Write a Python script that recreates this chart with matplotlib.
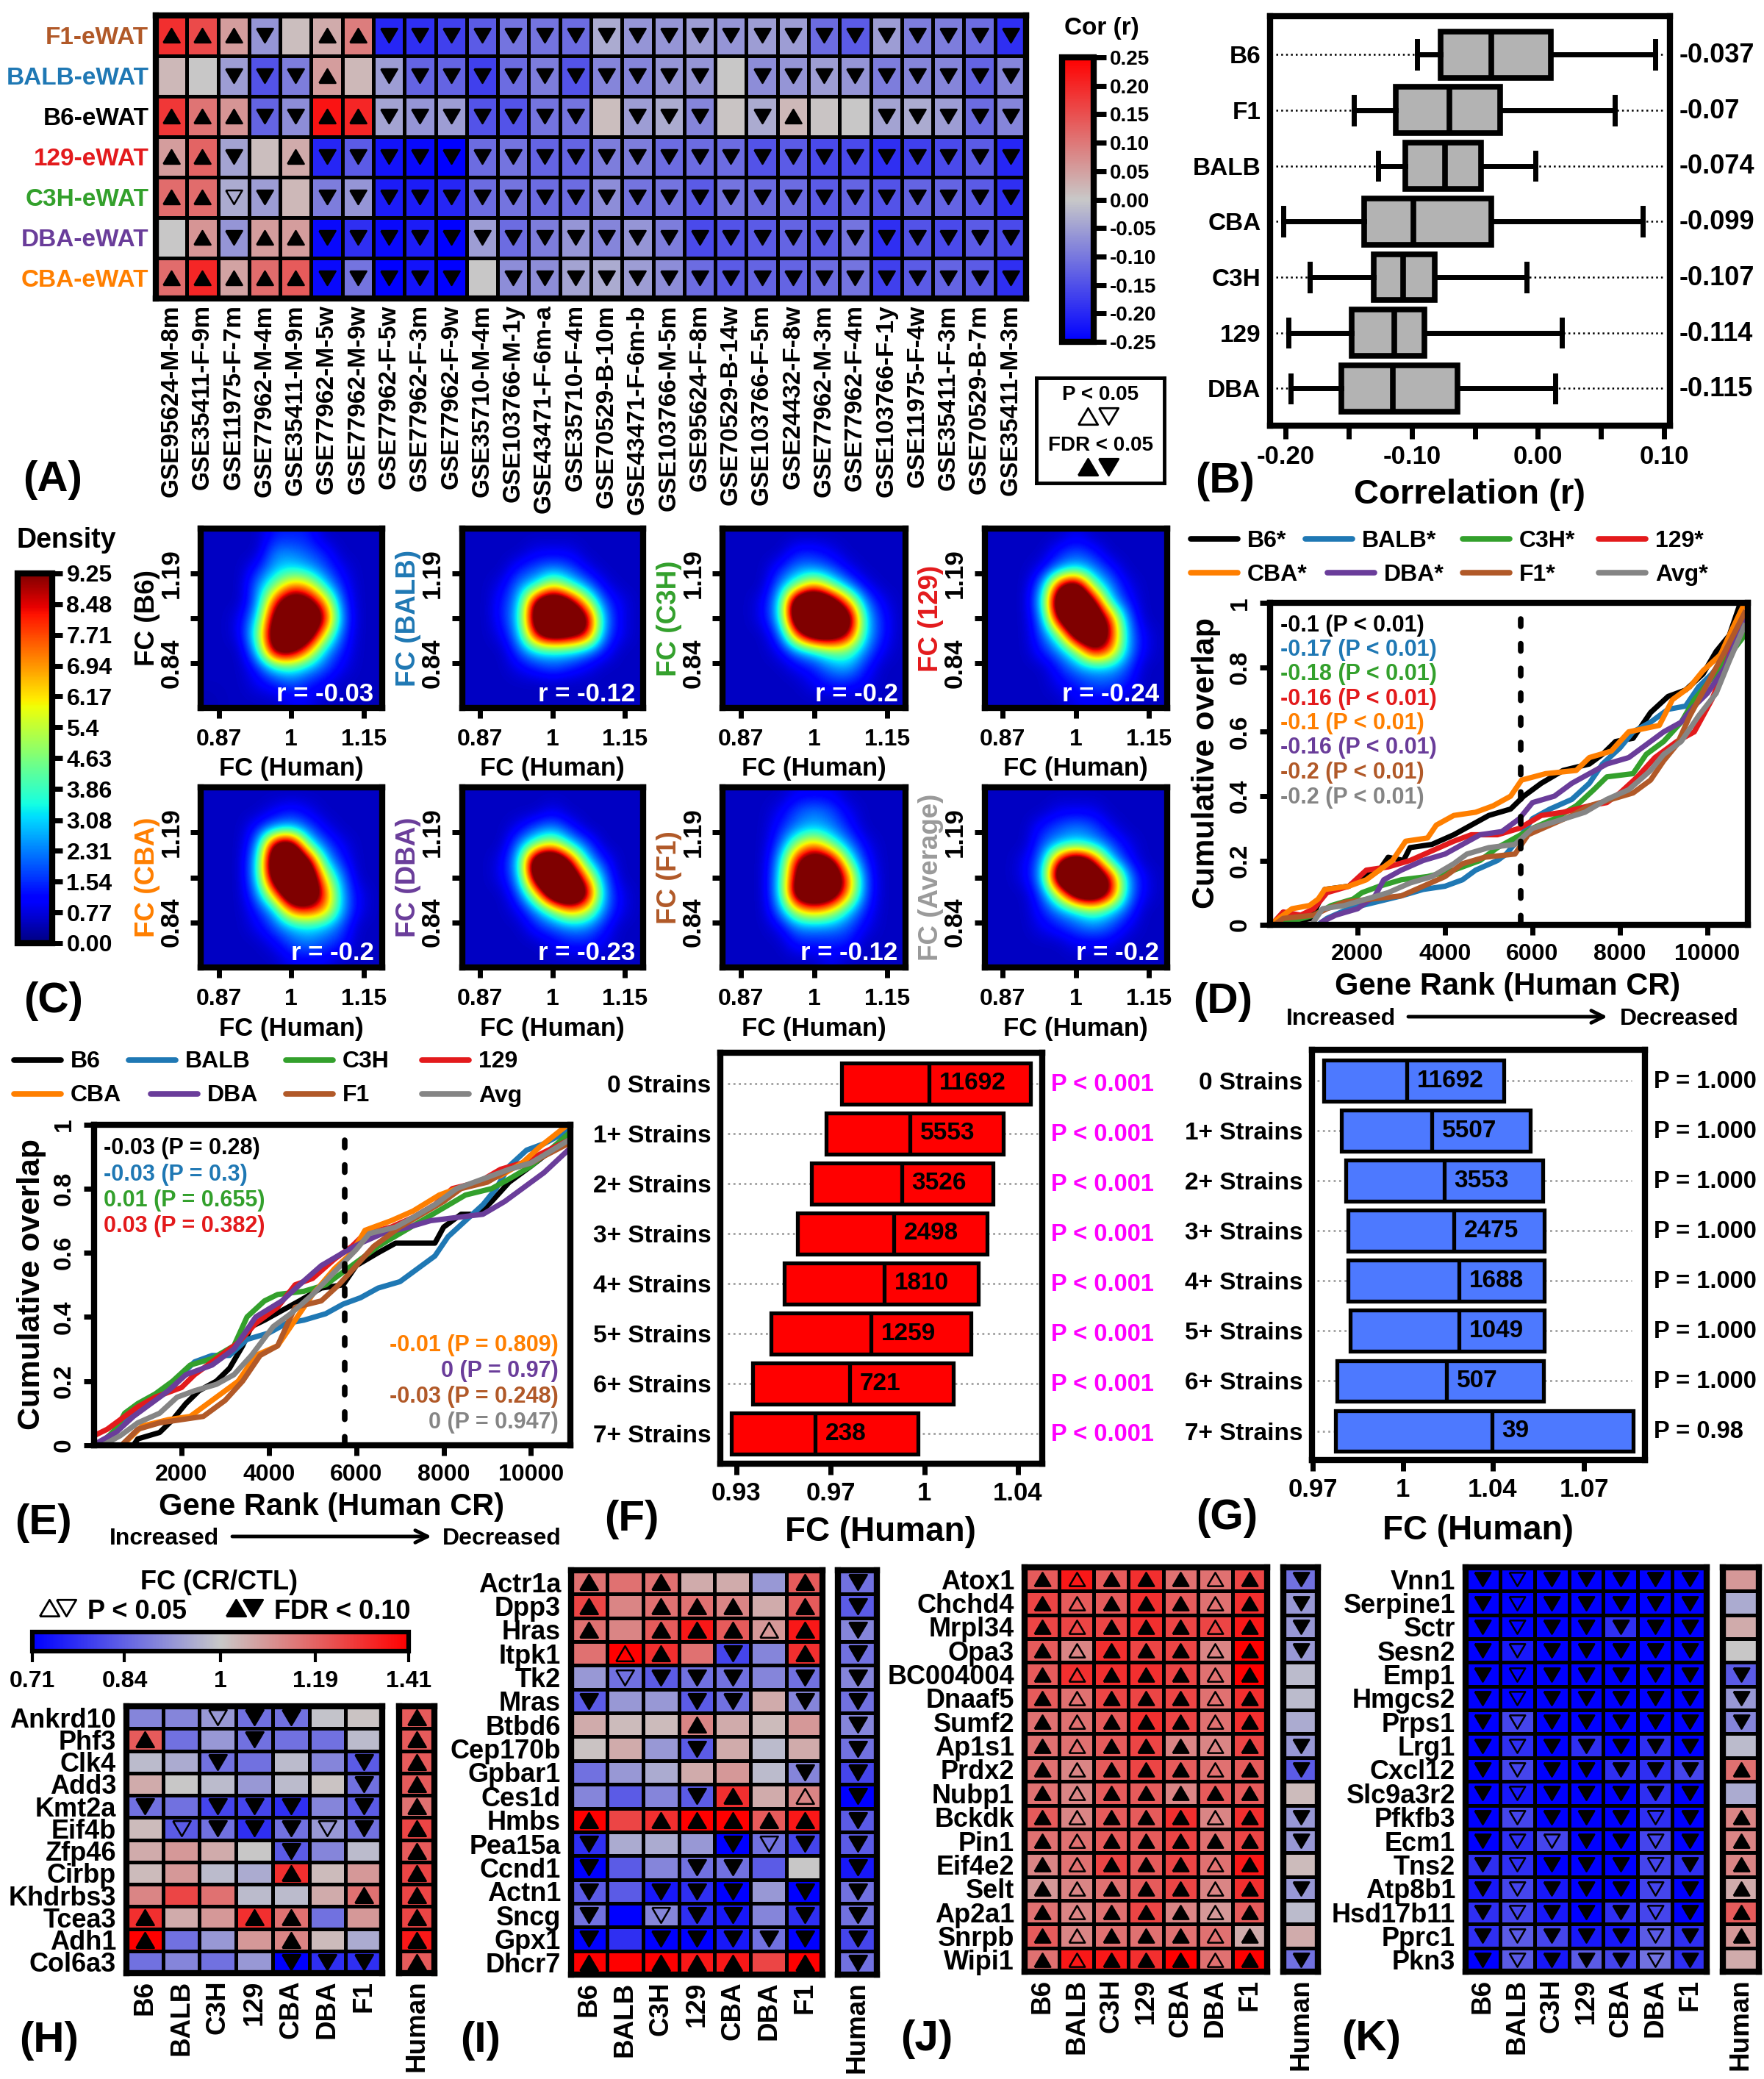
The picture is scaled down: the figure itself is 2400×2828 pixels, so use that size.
import numpy as np
import matplotlib
matplotlib.use('Agg')
import matplotlib.pyplot as plt
from matplotlib.cm import ScalarMappable
from matplotlib.colors import FuncNorm, LinearSegmentedColormap, LogNorm, Normalize

plt.rcParams['font.family'] = ['Liberation Sans', 'DejaVu Sans']
plt.rcParams['font.weight'] = 'bold'

W, H = 2400, 2828

BLACK = '#000000'
BLUE = '#1f78b4'
GREEN = '#33a02c'
RED = '#e31a1c'
ORANGE = '#ff7f00'
PURPLE = '#6a3d9a'
BROWN = '#b15928'
GREY = '#858585'

# panel A
A_rows = ['F1-eWAT', 'BALB-eWAT', 'B6-eWAT', '129-eWAT', 'C3H-eWAT', 'DBA-eWAT', 'CBA-eWAT']
A_row_colors = [BROWN, BLUE, BLACK, RED, GREEN, PURPLE, ORANGE]
A_cols = ['GSE95624-M-8m', 'GSE35411-F-9m', 'GSE11975-F-7m', 'GSE77962-M-4m', 'GSE35411-M-9m',
          'GSE77962-M-5w', 'GSE77962-M-9w', 'GSE77962-F-5w', 'GSE77962-F-3m', 'GSE77962-F-9w',
          'GSE35710-M-4m', 'GSE103766-M-1y', 'GSE43471-F-6m-a', 'GSE35710-F-4m', 'GSE70529-B-10m',
          'GSE43471-F-6m-b', 'GSE103766-M-5m', 'GSE95624-F-8m', 'GSE70529-B-14w', 'GSE103766-F-5m',
          'GSE24432-F-8w', 'GSE77962-M-3m', 'GSE77962-F-4m', 'GSE103766-F-1y', 'GSE11975-F-4w',
          'GSE35411-F-3m', 'GSE70529-B-7m', 'GSE35411-M-3m']
A_values = [
    [.20, .17, .07, -.08, .02, .05, .11, -.21, -.20, -.18, -.15, -.12, -.12, -.13, -.05, -.08, -.08, -.07, -.08, -.07, -.07, -.13, -.15, -.07, -.11, -.11, -.13, -.20],
    [.03, .00, -.07, -.16, -.11, .07, .03, -.07, -.14, -.14, -.18, -.13, -.11, -.16, -.10, -.10, -.08, -.08, .00, -.09, -.08, -.07, -.08, -.11, -.10, -.10, -.14, -.10],
    [.19, .12, .08, -.14, -.09, .23, .21, -.06, -.08, -.07, -.16, -.16, -.12, -.12, .02, -.07, -.05, -.10, .01, -.05, .03, .01, .00, -.06, -.05, -.07, -.13, -.10],
    [.07, .14, -.06, .02, .05, -.21, -.15, -.23, -.24, -.25, -.13, -.12, -.14, -.14, -.11, -.11, -.13, -.13, -.13, -.16, -.15, -.17, -.17, -.20, -.18, -.17, -.15, -.21],
    [.13, .13, -.05, -.07, .03, -.11, -.08, -.22, -.22, -.21, -.13, -.12, -.13, -.13, -.09, -.12, -.12, -.15, -.12, -.13, -.13, -.15, -.14, -.16, -.14, -.14, -.15, -.20],
    [.00, .08, -.08, .07, .07, -.24, -.20, -.24, -.22, -.25, -.07, -.13, -.11, -.08, -.10, -.08, -.11, -.17, -.16, -.15, -.14, -.15, -.12, -.20, -.16, -.17, -.15, -.17],
    [.13, .21, .06, .13, .15, -.24, -.12, -.25, -.23, -.25, .00, -.09, -.09, -.06, -.05, -.07, -.09, -.13, -.15, -.14, -.14, -.13, -.12, -.18, -.15, -.14, -.15, -.20],
]
A_marks = [
    'UUUD.UUDDDDDDDDDDDDDDDDDDDDD',
    '..DDDU.DDDDDDDDDDD.DDDDDDDDD',
    'UUUDDUUDDDDDDD.DDD.DU..DDDDD',
    'UUD.UDDDDDDDDDDDDDDDDDDDDDDD',
    'UUdD.DDDDDDDDDDDDDDDDDDDDDDD',
    '.UDUUDDDDDDDDDDDDDDDDDDDDDDD',
    'UUUUUDDDDD.DDDDDDDDDDDDDDDDD',
]
cor_ticks = [0.25, 0.20, 0.15, 0.10, 0.05, 0.00, -0.05, -0.10, -0.15, -0.20, -0.25]

# panel B
B_strains = ['B6', 'F1', 'BALB', 'CBA', 'C3H', '129', 'DBA']
B_whislo = [-.096, -.146, -.127, -.202, -.181, -.198, -.196]
B_q1 = [-.077, -.113, -.105, -.138, -.130, -.148, -.156]
B_med = [-.037, -.070, -.074, -.099, -.107, -.114, -.115]
B_q3 = [.010, -.030, -.045, -.037, -.082, -.090, -.064]
B_whishi = [.093, .061, -.002, .083, -.009, .019, .014]
B_means = ['-0.037', '-0.07', '-0.074', '-0.099', '-0.107', '-0.114', '-0.115']

# panel C
density_ticks = [0, .77, 1.54, 2.31, 3.08, 3.86, 4.63, 5.4, 6.17, 6.94, 7.71, 8.48, 9.25]
density_labels = ['0.00', '0.77', '1.54', '2.31', '3.08', '3.86', '4.63', '5.4', '6.17', '6.94', '7.71', '8.48', '9.25']
C_names = ['FC (B6)', 'FC (BALB)', 'FC (C3H)', 'FC (129)', 'FC (CBA)', 'FC (DBA)', 'FC (F1)', 'FC (Average)']
C_colors = [BLACK, BLUE, GREEN, RED, ORANGE, PURPLE, BROWN, '#9a9a9a']
C_r = ['r = -0.03', 'r = -0.12', 'r = -0.2', 'r = -0.24', 'r = -0.2', 'r = -0.23', 'r = -0.12', 'r = -0.2']
# density read on a coarse 11 x 11 grid, top row first (over 9.25 is the saturated core)
C_b6 = [[1, 1, 1, 1, 2, 2, 2, 1, 1, 1, 1], [1, 1, 1, 1, 3, 3, 2.5, 2, 1, 1, 1],
        [1, 1, 1, 2, 3.5, 4, 3.5, 2.5, 1.5, 1, 1], [1, 1, 1, 3, 5, 7, 6.5, 4, 2, 1, 1],
        [1, 1, 1, 3, 8, 11, 10, 7, 2.5, 1, 1], [1, 1, 1.5, 4, 10, 12, 12, 9, 3, 1, 1],
        [1, 1, 1.5, 5, 11, 12, 11, 6, 2.5, 1, 1], [1, 1, 1, 4, 10, 10, 7, 3.5, 2, 1, 1],
        [1, 1, 1, 2, 4, 4.5, 3.5, 2.5, 1.5, 1, 1], [1, 1, 1, 1.5, 2, 2.5, 2, 1.5, 1, 1, 1],
        [.8, 1, 1, 1, 1, 1.5, 1.5, 1, 1, 1, .8]]
C_balb = [[1, 1, 1, 1, 1, 1, 1, 1, 1, 1, 1], [1, 1, 1, 1, 1.5, 1.5, 1.5, 1, 1, 1, 1],
          [1, 1, 1, 2, 2.5, 3, 2.5, 1.5, 1, 1, 1], [1, 1, 1.5, 3, 4, 6, 4.5, 3, 1.5, 1, 1],
          [1, 1, 2, 3.5, 10, 12, 10, 6, 2.5, 1.5, 1], [1, 1, 2, 4, 11, 13, 12, 10, 3.5, 1.5, 1],
          [1, 1, 1.5, 3.5, 9, 11, 10, 9, 3, 1.5, 1], [1, 1, 1, 2.5, 4, 4, 4, 3, 2, 1, 1],
          [1, 1, 1, 1.5, 2, 2.5, 2, 1.5, 1, 1, 1], [1, 1, 1, 1, 1, 1, 1, 1, 1, 1, 1],
          [1, 1, 1, 1, 1, 1, 1, 1, 1, 1, 1]]
C_c3h = [[1, 1, 1, 1, 1, 1, 1, 1, 1, 1, 1], [1, 1, 1, 1, 2, 2, 1.5, 1, 1, 1, 1],
         [1, 1, 1, 2, 3, 3, 2.5, 1.5, 1, 1, 1], [1, 1, 1, 3, 5, 7, 5, 3, 1.5, 1, 1],
         [1, 1, 1.5, 4, 12, 13, 11, 7, 3, 1.5, 1], [1, 1, 1.5, 4, 12, 13, 12, 11, 4, 2, 1],
         [1, 1, 1, 2.5, 8, 11, 11, 9, 4, 2, 1], [1, 1, 1, 1.5, 3, 4, 5, 5, 3, 1.5, 1],
         [1, 1, 1, 1, 1.5, 2, 3, 3.5, 2, 1, 1], [1, 1, 1, 1, 1, 1.5, 2, 2, 1.5, 1, 1],
         [1, 1, 1, 1, 1, 1, 1, 1, 1, 1, 1]]
C_129 = [[1, 1, 1, 1, 1, 1.5, 1, 1, 1, 1, 1], [1, 1, 1, 1, 2, 2.5, 2, 1, 1, 1, 1],
         [1, 1, 1, 1.5, 3, 4, 3, 2, 1, 1, 1], [1, 1, 1, 3, 9, 11, 5, 3, 1.5, 1, 1],
         [1, 1, 1, 4, 12, 13, 10, 4, 2, 1, 1], [1, 1, 1, 3, 10, 13, 12, 8, 3, 1, 1],
         [1, 1, 1, 2.5, 5, 11, 12, 9, 3.5, 1.5, 1], [1, 1, 1, 2, 3, 5, 9, 7.5, 3.5, 1.5, 1],
         [1, 1, 1, 1, 2, 3, 3.5, 3.5, 2.5, 1, 1], [1, 1, 1, 1, 1.5, 2, 2.5, 2.5, 2, 1, 1],
         [1, 1, 1, 1, 1, 1.5, 1.5, 1.5, 1, 1, 1]]
C_cba = [[1, 1, 1, 1, 1, 1, 1, 1, 1, 1, 1], [1, 1, 1, 1, 1.5, 2, 1.5, 1, 1, 1, 1],
         [1, 1, 1, 2, 3, 3.5, 2.5, 1.5, 1, 1, 1], [1, 1, 1, 3, 10, 11, 4.5, 2.5, 1.5, 1, 1],
         [1, 1, 1, 4, 12, 13, 10, 4, 2, 1, 1], [1, 1, 1, 4, 11, 13, 12, 6, 3, 1, 1],
         [1, 1, 1, 3, 7, 12, 12, 8, 3.5, 1.5, 1], [1, 1, 1, 2, 3.5, 7.5, 8, 7, 3.5, 1.5, 1],
         [1, 1, 1, 1.5, 2.5, 3.5, 4, 3.5, 2.5, 1, 1], [1, 1, 1, 1, 1.5, 2.5, 3, 2.5, 2, 1, 1],
         [1, 1, 1, 1, 1, 1.5, 1.5, 1.5, 1, 1, 1]]
C_dba = [[1, 1, 1, 1, 1, 1, 1, 1, 1, 1, 1], [1, 1, 1, 1, 1, 1.5, 1, 1, 1, 1, 1],
         [1, 1, 1, 1.5, 2.5, 3, 2, 1, 1, 1, 1], [1, 1, 1, 3, 5, 6, 4, 2.5, 1, 1, 1],
         [1, 1, 1.5, 4, 12, 13, 9, 4, 2, 1, 1], [1, 1, 1.5, 3.5, 11, 13, 12, 7, 3, 1, 1],
         [1, 1, 1, 2.5, 6, 12, 13, 10, 3.5, 1.5, 1], [1, 1, 1, 1.5, 3, 5, 7, 6, 3, 1.5, 1],
         [1, 1, 1, 1, 2, 2.5, 3, 3, 2, 1, 1], [1, 1, 1, 1, 1, 1.5, 2, 2, 1.5, 1, 1],
         [1, 1, 1, 1, 1, 1, 1, 1, 1, 1, 1]]
C_f1 = [[1, 1, 1, 1, 1.5, 1.5, 1.5, 1, 1, 1, 1], [1, 1, 1, 1.5, 2.5, 3, 2.5, 1.5, 1, 1, 1],
        [1, 1, 1, 2, 3, 3.5, 3, 2, 1, 1, 1], [1, 1, 1, 2.5, 5.5, 7, 5, 3, 1.5, 1, 1],
        [1, 1, 1, 3.5, 9, 11, 10, 5, 2, 1, 1], [1, 1, 1, 4, 10, 12, 12, 7.5, 2.5, 1, 1],
        [1, 1, 1, 4, 11, 12, 11, 7, 2.5, 1, 1], [1, 1, 1, 3, 6, 7, 6, 4, 2, 1, 1],
        [1, 1, 1, 1.5, 3, 3, 3, 2.5, 1.5, 1, 1], [1, 1, 1, 1, 2, 2, 2, 2, 1, 1, 1],
        [1, 1, 1, 1, 1, 1, 1.5, 1, 1, 1, 1]]
C_avg = [[1, 1, 1, 1, 1, 1, 1, 1, 1, 1, 1], [1, 1, 1, 1, 1.5, 1.5, 1.5, 1, 1, 1, 1],
         [1, 1, 1, 2, 2.5, 3, 2.5, 1.5, 1, 1, 1], [1, 1, 1, 2.5, 3.5, 4, 3.5, 2.5, 1.5, 1, 1],
         [1, 1, 1.5, 3, 9, 12, 9, 4, 2, 1, 1], [1, 1, 1.5, 3.5, 12, 13, 12, 9, 3.5, 1.5, 1],
         [1, 1, 1, 2.5, 6, 11, 12, 9, 3.5, 1.5, 1], [1, 1, 1, 2, 3, 4, 5, 4, 2.5, 1, 1],
         [1, 1, 1, 1.5, 2, 2.5, 3, 2.5, 1.5, 1, 1], [1, 1, 1, 1, 1, 1.5, 1.5, 1.5, 1, 1, 1],
         [1, 1, 1, 1, 1, 1, 1, 1, 1, 1, 1]]
C_grids = [C_b6, C_balb, C_c3h, C_129, C_cba, C_dba, C_f1, C_avg]
# first reading of the grids was too bright in the outer part of the blobs
C_read_levels = [0, 1, 2, 3, 4, 5, 6, 9, 13]
C_true_levels = [0, .55, 1.4, 2.4, 3.3, 4.5, 6, 9.5, 14]

# panels D and E, points of the overlap curves (rank, overlap)
D_b6 = [(100, 0), (950, .02), (1250, .11), (1800, .12), (2000, .14), (2500, .17), (2700, .21), (3050, .2), (3200, .24), (3700, .25), (4200, .28), (4600, .31), (5000, .34), (5500, .36), (5800, .4), (6200, .44), (6700, .48), (7300, .5), (7600, .53), (7900, .57), (8300, .58), (8700, .66), (9100, .71), (9500, .73), (9900, .78), (10200, .85), (10500, .9), (10750, 1)]
D_balb = [(1100, 0), (1300, .02), (1800, .05), (2400, .07), (3000, .09), (3500, .11), (4000, .12), (4400, .14), (4700, .17), (5200, .2), (5400, .22), (5700, .27), (6000, .33), (6400, .36), (6900, .39), (7300, .44), (7600, .5), (8000, .55), (8300, .6), (8700, .63), (9100, .67), (9500, .68), (9800, .74), (10100, .78), (10500, .85), (10850, .97)]
D_c3h = [(200, 0), (1000, .03), (1400, .06), (1900, .08), (2100, .1), (2500, .12), (3000, .14), (3600, .15), (4200, .17), (4800, .2), (5200, .24), (5600, .27), (6000, .3), (6500, .33), (7000, .37), (7400, .42), (7700, .46), (8300, .47), (8600, .53), (9000, .57), (9400, .63), (9700, .7), (10000, .75), (10400, .82), (10850, .9)]
D_129 = [(100, .01), (300, .04), (700, .03), (1000, .05), (1300, .1), (1800, .12), (2200, .17), (2700, .18), (3200, .2), (3700, .23), (4200, .26), (4600, .28), (5200, .28), (5700, .3), (6200, .34), (6700, .35), (7300, .37), (7700, .38), (8000, .41), (8400, .46), (8800, .52), (9300, .57), (9700, .6), (10100, .7), (10400, .8), (10850, .97)]
D_cba = [(100, .01), (300, .03), (500, .05), (900, .06), (1100, .08), (1250, .11), (1800, .12), (2200, .14), (2500, .17), (2800, .2), (3100, .26), (3600, .27), (3800, .31), (4200, .34), (4700, .35), (5100, .37), (5500, .4), (5750, .45), (6300, .47), (7000, .48), (7300, .52), (7800, .54), (8200, .6), (8900, .62), (9200, .7), (9600, .74), (9900, .79), (10300, .84), (10500, .9), (10850, 1)]
D_dba = [(1200, .01), (1500, .03), (2000, .05), (2400, .09), (2600, .14), (3000, .17), (3500, .2), (4000, .22), (4400, .25), (4800, .28), (5300, .29), (5700, .33), (6000, .38), (6500, .4), (6900, .44), (7300, .47), (7700, .5), (8200, .52), (8500, .55), (9000, .6), (9400, .63), (9700, .68), (10000, .72), (10400, .8), (10850, .95)]
D_f1 = [(100, 0), (300, .02), (1000, .03), (1300, .05), (1700, .07), (2300, .08), (3000, .09), (3500, .12), (4000, .15), (4400, .19), (4900, .21), (5600, .22), (5900, .28), (6400, .31), (6900, .34), (7300, .37), (7800, .39), (8300, .41), (8700, .45), (9000, .51), (9300, .56), (9600, .65), (10000, .75), (10400, .85), (10850, .97)]
D_avg = [(1000, .01), (1200, .05), (1700, .06), (2200, .08), (2700, .1), (3200, .13), (3700, .15), (4200, .19), (4500, .22), (5000, .24), (5600, .25), (6000, .3), (6500, .32), (7200, .35), (7700, .39), (8200, .42), (8700, .48), (9000, .53), (9400, .57), (9800, .65), (10200, .72), (10500, .82), (10850, .93)]
D_curves = [D_b6, D_balb, D_c3h, D_129, D_cba, D_dba, D_f1, D_avg]

E_b6 = [(900, 0), (1000, .02), (1500, .04), (1800, .08), (2100, .13), (2400, .17), (2800, .2), (3100, .24), (3400, .31), (3600, .37), (3900, .39), (4300, .42), (4700, .45), (5200, .49), (5700, .5), (6000, .56), (6500, .6), (6900, .63), (7800, .63), (8000, .68), (8400, .72), (8800, .72), (9100, .76), (9500, .82), (10000, .87), (10850, .96)]
E_balb = [(100, 0), (300, .02), (600, .07), (1000, .12), (1500, .16), (2000, .22), (2300, .26), (2700, .28), (3100, .28), (3500, .33), (4000, .35), (4400, .38), (4800, .39), (5300, .41), (5700, .44), (6100, .46), (6500, .49), (7000, .51), (7400, .55), (7800, .59), (8100, .65), (8500, .7), (8900, .75), (9200, .8), (9500, .87), (9900, .92), (10300, .94), (10850, .98)]
E_c3h = [(100, 0), (500, .05), (700, .1), (1000, .13), (1400, .16), (1800, .2), (2200, .25), (2700, .27), (3200, .31), (3500, .4), (3900, .45), (4200, .47), (4800, .48), (5300, .5), (5700, .54), (6100, .58), (6500, .62), (7000, .66), (7500, .7), (8000, .74), (8500, .78), (9100, .8), (9500, .83), (10000, .87), (10850, .97)]
E_129 = [(0, .03), (300, .05), (600, .08), (1000, .12), (1400, .15), (2000, .18), (2300, .22), (2600, .25), (3000, .29), (3300, .32), (3700, .38), (4200, .43), (4600, .5), (5000, .52), (5500, .58), (5900, .62), (6200, .66), (6800, .68), (7300, .71), (7800, .75), (8200, .8), (8800, .82), (9300, .86), (9800, .88), (10850, .95)]
E_cba = [(800, .02), (1100, .06), (1700, .08), (2200, .09), (2600, .13), (3000, .17), (3300, .2), (3700, .28), (4200, .31), (4600, .39), (5000, .47), (5500, .55), (5900, .6), (6200, .67), (6800, .7), (7300, .73), (7900, .78), (8300, .8), (8800, .82), (9300, .84), (9800, .88), (10200, .93), (10850, 1)]
E_dba = [(100, .01), (500, .04), (900, .09), (1300, .13), (1700, .17), (2100, .22), (2700, .25), (3200, .3), (3700, .4), (4300, .45), (4700, .5), (5200, .56), (5700, .6), (6100, .63), (6600, .66), (7200, .68), (7700, .7), (8300, .71), (8900, .72), (9400, .76), (9800, .8), (10300, .85), (10850, .92)]
E_f1 = [(700, .01), (1000, .05), (1500, .07), (2000, .08), (2500, .09), (3000, .14), (3400, .2), (3800, .28), (4200, .31), (4600, .43), (5200, .45), (5600, .5), (6000, .56), (6400, .62), (7000, .68), (7500, .72), (8000, .76), (8400, .8), (9000, .82), (9500, .86), (10000, .88), (10850, .94)]
E_avg = [(200, 0), (600, .03), (1000, .07), (1500, .1), (1900, .15), (2300, .17), (2800, .19), (3200, .22), (3600, .28), (4100, .37), (4500, .41), (5000, .47), (5500, .54), (6000, .61), (6300, .66), (6900, .68), (7300, .71), (7800, .75), (8300, .8), (8900, .83), (9500, .86), (10000, .88), (10850, .95)]
E_curves = [E_b6, E_balb, E_c3h, E_129, E_cba, E_dba, E_f1, E_avg]

curve_colors = [BLACK, BLUE, GREEN, RED, ORANGE, PURPLE, BROWN, GREY]
D_legend = ['B6*', 'BALB*', 'C3H*', '129*', 'CBA*', 'DBA*', 'F1*', 'Avg*']
E_legend = ['B6', 'BALB', 'C3H', '129', 'CBA', 'DBA', 'F1', 'Avg']
D_stats = ['-0.1 (P < 0.01)', '-0.17 (P < 0.01)', '-0.18 (P < 0.01)', '-0.16 (P < 0.01)',
           '-0.1 (P < 0.01)', '-0.16 (P < 0.01)', '-0.2 (P < 0.01)', '-0.2 (P < 0.01)']
E_stats = ['-0.03 (P = 0.28)', '-0.03 (P = 0.3)', '0.01 (P = 0.655)', '0.03 (P = 0.382)',
           '-0.01 (P = 0.809)', '0 (P = 0.97)', '-0.03 (P = 0.248)', '0 (P = 0.947)']
rank_ticks = [2000, 4000, 6000, 8000, 10000]
overlap_ticks = [0, .2, .4, .6, .8, 1]
overlap_labels = ['0', '0.2', '0.4', '0.6', '0.8', '1']
cutoff_rank = 5730

# panels F and G
strain_rows = ['0 Strains', '1+ Strains', '2+ Strains', '3+ Strains', '4+ Strains', '5+ Strains', '6+ Strains', '7+ Strains']
F_q1 = [.9700, .9645, .9593, .9543, .9495, .9449, .9386, .9314]
F_med = [1.0017, .9947, .9916, .9888, .9852, .9804, .9728, .9604]
F_q3 = [1.0399, 1.0295, 1.0256, 1.0234, 1.0200, 1.0171, 1.0105, .9976]
F_n = ['11692', '5553', '3526', '2498', '1810', '1259', '721', '238']
F_p = ['P < 0.001'] * 8
F_ticks = [.933, .966, 1, 1.035]
F_ticklabels = ['0.93', '0.97', '1', '1.04']
G_q1 = [.9700, .9766, .9783, .9791, .9791, .9799, .9749, .9745]
G_med = [1.0015, 1.0110, 1.0159, 1.0197, 1.0216, 1.0216, 1.0168, 1.0347]
G_q3 = [1.0396, 1.0500, 1.0550, 1.0557, 1.0557, 1.0557, 1.0553, 1.0925]
G_n = ['11692', '5507', '3553', '2475', '1688', '1049', '507', '39']
G_p = ['P = 1.000'] * 7 + ['P = 0.98']
G_ticks = [.966, 1, 1.035, 1.072]
G_ticklabels = ['0.97', '1', '1.04', '1.07']

# panels H to K: colour score -10 (FC 0.71) to 10 (FC 1.41)
strain_cols = ['B6', 'BALB', 'C3H', '129', 'CBA', 'DBA', 'F1']
H_genes = ['Ankrd10', 'Phf3', 'Clk4', 'Add3', 'Kmt2a', 'Eif4b', 'Zfp46', 'Cirbp', 'Khdrbs3', 'Tcea3', 'Adh1', 'Col6a3']
H_values = [[-4, -4, -3, -5, -5, -.5, .5], [6, -5, -3, -5, -5, -5, -1], [-1, -2, -5, -5, -1, -4, -6],
            [2, 0, -1, -3, -1, .5, -5], [-5, -5, -7, -7, -8, -4, -6], [1, -6, -5, -8, -5, -3, -5],
            [2, 3, 2, 0, -6, -4, -1], [1, 3, -1, -2, 8, 1, 3], [4, 7, 5, -1, -1, 2, 5],
            [8, 2, 3, 8, 5, -5, 3], [10, -5, -3, 3, 4, 1, -2], [-5, -4, -5, -3, -10, -8, -8]]
H_marks = ['..dDD..', 'U..D...', '..D...D', '......D', 'D.DDD.D', '.dDDDdD', '....D..', '....U..',
           '......U', 'U..UU..', 'U...U..', '....DDD']
H_human = [6, 6, 6, 6, 5, 7, 6, 7, 7, 7, 9, 6]
H_human_marks = 'UUUUUUUUUUUU'

I_genes = ['Actr1a', 'Dpp3', 'Hras', 'Itpk1', 'Tk2', 'Mras', 'Btbd6', 'Cep170b', 'Gpbar1', 'Ces1d', 'Hmbs', 'Pea15a', 'Ccnd1', 'Actn1', 'Sncg', 'Gpx1', 'Dhcr7']
I_values = [[5, 5, 5, 2, 2, -3, 6], [7, 4, 5, 5, 4, 2, 6], [5, 4, 6, 9, 6, 3, 9], [5, 10, 8, 5, -7, -4, 8],
            [-3, -5, -6, -5, -5, -4, -5], [-6, -3, -3, -6, -5, 2, -4], [2, 1, 1, 4, 2, 1, 3],
            [.5, 2, -3, -6, 2, -1, 2], [-5, -3, -2, 2, 3, -1, -4], [-4, -6, -4, -6, 8, 2, 4],
            [10, 7, 8, 10, 10, 6, 9], [-8, -2, -2, -3, -10, -5, -7], [-10, -6, -4, -5, -5, -6, 0],
            [-6, -6, -9, -8, -10, -3, -10], [-5, -10, -4, -8, -9, -4, -8], [-10, -8, -10, -10, -9, -5, -10],
            [10, 10, 10, 9, 9, 7, 10]]
I_marks = ['U.U...U', 'U.UUU.U', 'U.UUUuU', '.uU.D.U', '.dDDD.D', 'D..DD.D', '...U...', '...D...',
           '......D', '...DU.u', 'U.UUUUU', 'D...DdD', 'D..DD..', 'D.DDD.D', 'D.dDD.D', 'D.DDDDD', 'U.UUU.U']
I_human = [-5, -6, -4, -5, -4, -5, -4, -5, -7, -10, -6, -6, -9, -5, -5, -7, -5]
I_human_marks = 'DDDDDDDDDDDDDDDDD'

J_genes = ['Atox1', 'Chchd4', 'Mrpl34', 'Opa3', 'BC004004', 'Dnaaf5', 'Sumf2', 'Ap1s1', 'Prdx2', 'Nubp1', 'Bckdk', 'Pin1', 'Eif4e2', 'Selt', 'Ap2a1', 'Snrpb', 'Wipi1']
J_values = [[6, 9, 6, 8, 5, 5, 7], [7, 6, 6, 8, 6, 5, 8], [7, 7, 7, 8, 7, 7, 9], [6, 4, 8, 7, 7, 4, 10],
            [6, 8, 8, 8, 7, 5, 10], [6, 5, 7, 7, 7, 5, 8], [5, 5, 6, 8, 7, 5, 8], [5, 5, 6, 7, 4, 4, 7],
            [5, 4, 6, 7, 6, 5, 6], [5, 4, 6, 6, 4, 6, 6], [6, 4, 6, 6, 8, 4, 8], [5, 5, 6, 6, 7, 5, 7],
            [4, 5, 7, 6, 7, 5, 9], [3, 4, 5, 6, 7, 4, 8], [5, 4, 5, 7, 4, 3, 6], [6, 4, 5, 5, 5, 5, 2],
            [5, 9, 9, 8, 10, 5, 10]]
J_marks = ['UuUUUuU', 'UuUUUuU', 'UuUUUuU', 'UuUUUuU', 'UuUUUuU', 'UuUUUuU', 'UuUUUuU', 'UuUUUuU', 'UuUUUuU',
           'UuUUUUU', 'UuUUUuU', 'UuUUUUU', 'UuUUUuU', 'UuUUUuU', 'UuUUUuU', 'UuUUUuU', 'UuUUUuU']
J_human = [-5, -3, -3, -3, -1, -1, -2, -3, -6, 1, -3, -3, 1, -3, -1, 2, -5]
J_human_marks = 'DDDD...DD.DD.D..D'

K_genes = ['Vnn1', 'Serpine1', 'Sctr', 'Sesn2', 'Emp1', 'Hmgcs2', 'Prps1', 'Lrg1', 'Cxcl12', 'Slc9a3r2', 'Pfkfb3', 'Ecm1', 'Tns2', 'Atp8b1', 'Hsd17b11', 'Pprc1', 'Pkn3']
K_values = [[-10, -10, -10, -10, -10, -10, -10], [-10, -10, -10, -10, -10, -10, -10], [-10, -10, -10, -10, -8, -10, -10],
            [-10, -9, -10, -10, -10, -10, -10], [-10, -10, -10, -10, -10, -10, -10], [-10, -10, -10, -10, -10, -10, -10],
            [-10, -7, -10, -10, -10, -10, -10], [-10, -8, -10, -8, -10, -8, -10], [-10, -7, -10, -10, -8, -8, -7],
            [-10, -9, -10, -10, -10, -8, -10], [-10, -7, -10, -10, -10, -8, -10], [-10, -8, -7, -10, -10, -7, -10],
            [-8, -8, -10, -10, -10, -7, -8], [-9, -7, -9, -10, -10, -7, -10], [-8, -7, -9, -10, -8, -7, -10],
            [-8, -6, -7, -9, -9, -6, -8], [-10, -6, -9, -6, -7, -5, -8]]
K_marks = ['DdDDDDD', 'DdDDDDD', 'DdDDDDD', 'DdDDDDD', 'DdDDDDD', 'DdDDDDD', 'DdDDDDD', 'DdDDDDD', 'DdDDDDD',
           'DdDDDDD', 'DdDDDdD', 'DddDDdD', 'DdDDDdD', 'DdDDDdD', 'DdDDDdD', 'DdDDDdD', 'DdDDDdD']
K_human = [3, -2, 2, 0, -6, -3, -4, -1, 5, -2, 4, 4, 4, 2, 6, 3, 2]
K_human_marks = '....DDD.U.UUUUUU.'
fc_ticks = [.71, .84, 1, 1.19, 1.41]
fc_ticklabels = ['0.71', '0.84', '1', '1.19', '1.41']

heat_cmap = LinearSegmentedColormap.from_list('heat', ['#0000ff', '#c8c8c8', '#ff0000'])
UP = [(-1, -.85), (0, .85), (1, -.85), (-1, -.85)]
DOWN = [(-1, .85), (0, -.85), (1, .85), (-1, .85)]

fig = plt.figure(figsize=(W / 100, H / 100), dpi=100)


def soft_norm(limit):
    # cell colours came out too strong when read linearly, so ease the middle range
    f = lambda v: np.sign(v) * np.abs(v) ** 1.2
    inv = lambda v: np.sign(v) * np.abs(v) ** (1 / 1.2)
    return FuncNorm((f, inv), vmin=-limit, vmax=limit)


def panel(x0, y0, x1, y1, lw=6):
    ax = fig.add_axes([x0 / W, 1 - y1 / H, (x1 - x0) / W, (y1 - y0) / H])
    for s in ax.spines.values():
        s.set_linewidth(lw)
    return ax


# overlay in pixel coordinates for free standing texts
top = fig.add_axes([0, 0, 1, 1], zorder=10)
top.set_xlim(0, W)
top.set_ylim(H, 0)
top.axis('off')


def label(x, y, s, size=24, ha='center', va='center', color='k', rotation=0):
    if rotation == 0:
        y = y + 3
    top.text(x, y, s, fontsize=size, ha=ha, va=va, color=color, rotation=rotation)


def draw_marks(ax, marks, ms, mew):
    for r, row in enumerate(marks):
        for c, m in enumerate(row):
            if m == '.':
                continue
            ax.plot(c + .5, r + .5, marker=UP if m in 'Uu' else DOWN, ms=ms, mew=mew, mec='k',
                    mfc='k' if m.isupper() else 'none', ls='none')


def heat_panel(x0, y0, x1, y1, values, marks, norm, ms, mew=1.8, grid=3.5):
    ax = panel(x0, y0, x1, y1)
    arr = np.array(values, dtype=float)
    ax.pcolormesh(arr, cmap=heat_cmap, norm=norm, edgecolors='k', linewidth=grid)
    draw_marks(ax, marks, ms, mew)
    ax.set_xlim(0, arr.shape[1])
    ax.set_ylim(arr.shape[0], 0)
    ax.tick_params(length=0)
    return ax


# (A)
ax = heat_panel(212, 20.5, 1396, 406, A_values, A_marks, soft_norm(.25), 16)
ax.set_xticks(np.arange(len(A_cols)) + .5)
ax.set_xticklabels(A_cols, rotation=90, fontsize=24, ha='center', va='top')
ax.set_yticks(np.arange(len(A_rows)) + .5)
ax.set_yticklabels(A_rows, fontsize=24)
ax.tick_params(axis='x', pad=6)
ax.tick_params(axis='y', pad=7)
for t, c in zip(ax.get_yticklabels(), A_row_colors):
    t.set_color(c)
label(72, 650, '(A)', 42)

label(1499, 35, 'Cor (r)', 24)
cax = panel(1445, 78, 1488, 465)
cb = fig.colorbar(ScalarMappable(Normalize(-.25, .25), heat_cmap), cax=cax)
cb.set_ticks(cor_ticks)
cb.set_ticklabels(['%.2f' % v for v in cor_ticks])
cb.outline.set_linewidth(6)
cax.tick_params(length=12, width=5, pad=4, labelsize=20)

box = panel(1410, 514, 1584, 657, lw=3.5)
box.set_xticks([])
box.set_yticks([])
label(1497, 534, 'P < 0.05', 20)
label(1497, 603, 'FDR < 0.05', 20)
for x, mk in ((1480, UP), (1508, DOWN)):
    top.plot(x, 566, marker=mk, ms=19, mfc='none', mec='k', mew=2, ls='none')
    top.plot(x, 635, marker=mk, ms=19, mfc='k', mec='k', mew=2, ls='none')

# (B)
ax = panel(1728, 22, 2272, 579)
stats = [{'whislo': a, 'q1': b, 'med': c, 'q3': d, 'whishi': e, 'fliers': []}
         for a, b, c, d, e in zip(B_whislo, B_q1, B_med, B_q3, B_whishi)]
pos = np.arange(len(stats))
ax.hlines(pos, -.208, .1, colors='k', linestyles=':', linewidth=1.8, zorder=1)
ax.bxp(stats, positions=pos, orientation='horizontal', widths=.83, capwidths=.47, showfliers=False,
       patch_artist=True, manage_ticks=False,
       boxprops=dict(facecolor='#b3b3b3', edgecolor='k', linewidth=5.5),
       medianprops=dict(color='k', linewidth=5.5),
       whiskerprops=dict(color='k', linewidth=5),
       capprops=dict(color='k', linewidth=5), zorder=3)
ax.set_xlim(-.2125, .1047)
ax.set_ylim(6.67, -.69)
ax.set_yticks(pos)
ax.set_yticklabels(B_strains, fontsize=24)
ax.set_xticks([-.2, -.1, 0, .1])
ax.set_xticklabels(['-0.20', '-0.10', '0.00', '0.10'], fontsize=25)
ax.set_xticks([-.15, -.05, .05], minor=True)
ax.tick_params(axis='y', length=0, pad=9)
ax.tick_params(axis='x', which='both', length=13, width=5, pad=6)
for i, s in enumerate(B_means):
    ax.annotate(s, (1, i), xycoords=('axes fraction', 'data'), xytext=(9, -1),
                textcoords='offset points', fontsize=26, va='center')
label(2000, 670, 'Correlation (r)', 34)
label(1667, 652, '(B)', 42)

# (C)
label(90, 732, 'Density', 27)
cax = panel(24, 780, 71, 1283)
cb = fig.colorbar(ScalarMappable(Normalize(0, 9.25), 'jet'), cax=cax)
cb.set_ticks(density_ticks)
cb.set_ticklabels(density_labels)
cb.outline.set_linewidth(6)
cax.tick_params(length=10, width=5, pad=4, labelsize=23)

C_lefts = [273, 628.6, 983, 1339.5]
C_rights = [519.5, 875, 1232.4, 1588]
C_tops = [719, 1071]
C_bottoms = [963, 1316]
for i, grid in enumerate(C_grids):
    r, c = i // 4, i % 4
    ax = panel(C_lefts[c], C_tops[r], C_rights[c], C_bottoms[r])
    density = np.interp(np.array(grid), C_read_levels, C_true_levels)
    ax.imshow(density, extent=[-.25, .25, -.5, .5], cmap='jet', vmin=0, vmax=9.25,
              aspect='auto', interpolation='bicubic', origin='upper')
    ax.set_xticks([-.2, 0, .2])
    ax.set_xticklabels(['0.87', '1', '1.15'], fontsize=23)
    ax.set_yticks([-.25, 0, .25])
    ax.set_yticklabels(['0.84', '', '1.19'], fontsize=25, rotation=90, va='center')
    ax.tick_params(length=10, width=5, pad=7)
    ax.tick_params(axis='x', pad=10)
    label((C_lefts[c] + C_rights[c]) / 2, C_bottoms[r] + 80, 'FC (Human)', 25)
    label(C_lefts[c] - 73, (C_tops[r] + C_bottoms[r]) / 2, C_names[i], 26.5, color=C_colors[i], rotation=90)
    label(C_rights[c] - 11, C_bottoms[r] - 22, C_r[i], 25, ha='right', color='w')
label(73, 1359, '(C)', 42)


def overlap_panel(x0, y0, x1, y1, curves, xmax):
    ax = panel(x0, y0, x1, y1)
    for pts, col in zip(curves, curve_colors):
        xs, ys = zip(*pts)
        ax.plot(xs, ys, color=col, lw=5.2, solid_joinstyle='round')
    ax.plot([cutoff_rank, cutoff_rank], [.95, 0], color='k', lw=5.5, dashes=(1.3, 3.1), dash_capstyle='round')
    ax.set_xlim(0, xmax)
    ax.set_ylim(0, 1)
    ax.set_xticks(rank_ticks)
    ax.set_xticklabels([str(v) for v in rank_ticks], fontsize=23)
    ax.set_yticks(overlap_ticks)
    ax.set_yticklabels(overlap_labels, fontsize=24, rotation=90, va='center')
    ax.tick_params(length=10, width=5, pad=8)
    return ax


def curve_legend(names, y1, y2, x0, offsets):
    for i, s in enumerate(names):
        y = y1 if i < 4 else y2
        xs = x0 + offsets[i]
        top.plot([xs, xs + 64], [y, y], color=curve_colors[i], lw=5.5, solid_capstyle='round')
        label(xs + 77, y, s, 23, ha='left')


def rank_footer(cx, y_title, y_arrow, inc_x, dec_x, a0, a1):
    label(cx, y_title, 'Gene Rank (Human CR)', 30)
    label(inc_x, y_arrow, 'Increased', 23)
    label(dec_x, y_arrow, 'Decreased', 23)
    top.annotate('', xy=(a1, y_arrow), xytext=(a0, y_arrow),
                 arrowprops=dict(arrowstyle='->', lw=3.5, color='k', mutation_scale=30, shrinkA=0, shrinkB=0))


legend_offsets = [0, 156, 370, 555, 0, 186, 370, 555]

# (D)
overlap_panel(1728, 820.5, 2378, 1258, D_curves, 10924)
curve_legend(D_legend, 733, 779, 1620, legend_offsets)
for y, s, col in zip([848, 881, 914, 948, 981, 1014, 1048, 1082], D_stats, curve_colors):
    label(1742, y, s, 22, ha='left', color=col)
label(1641, 1038, 'Cumulative overlap', 31, rotation=90)
rank_footer(2051, 1339, 1383, 1824, 2285, 1916, 2187)
label(1664, 1360, '(D)', 42)

# (E)
overlap_panel(128, 1529.5, 776, 1966, E_curves, 10900)
curve_legend(E_legend, 1441.5, 1487.5, 19, legend_offsets)
for y, s, col in zip([1559, 1595, 1630, 1665], E_stats[:4], curve_colors[:4]):
    label(141, y, s, 22, ha='left', color=col)
for y, s, col in zip([1827, 1862, 1897, 1932], E_stats[4:], curve_colors[4:]):
    label(760, y, s, 22, ha='right', color=col)
label(43, 1747, 'Cumulative overlap', 31, rotation=90)
rank_footer(451, 2047, 2090, 223, 683, 316, 587)
label(59, 2069, '(E)', 42)


def strain_panel(x0, y0, x1, y1, q1, med, q3, n, ps, fill, xlim, ylim, ticks, ticklabels, grid, pcol):
    ax = panel(x0, y0, x1, y1)
    pos = np.arange(len(q1))
    ax.set_xscale('log', base=2)
    ax.hlines(pos, grid[0], grid[1], colors='#a0a0a0', linestyles=':', linewidth=2, zorder=1)
    ax.barh(pos, np.array(q3) - np.array(q1), left=q1, height=.82, color=fill, edgecolor='k', linewidth=3.8, zorder=3)
    ax.vlines(med, pos - .41, pos + .41, colors='k', linewidth=3.8, zorder=4)
    for i in pos:
        ax.annotate(n[i], (med[i], i), xytext=(10, 0), textcoords='offset points', fontsize=24, va='center', zorder=5)
        ax.annotate(ps[i], (1, i), xycoords=('axes fraction', 'data'), xytext=(9, -1),
                    textcoords='offset points', fontsize=23.5, va='center', color=pcol)
    ax.set_xlim(*xlim)
    ax.set_ylim(*ylim)
    ax.set_yticks(pos)
    ax.set_yticklabels(strain_rows, fontsize=24)
    ax.tick_params(axis='y', length=0, pad=9)
    ax.set_xticks(ticks)
    ax.set_xticklabels(ticklabels, fontsize=25)
    ax.minorticks_off()
    ax.tick_params(axis='x', length=11, width=5, pad=6)
    return ax


# (F)
strain_panel(980, 1432, 1418, 1991, F_q1, F_med, F_q3, F_n, F_p, '#ff0000', (.9275, 1.0443), (7.6, -.613),
             F_ticks, F_ticklabels, (.9301, 1.0426), '#ff00ff')
label(1198, 2081, 'FC (Human)', 33)
label(859, 2064, '(F)', 42)

# (G)
strain_panel(1785, 1428, 2238, 1986, G_q1, G_med, G_q3, G_n, G_p, '#4d79ff', (.9657, 1.0973), (7.58, -.617),
             G_ticks, G_ticklabels, (.9676, 1.0918), 'k')
label(2011, 2079, 'FC (Human)', 33)
label(1669, 2062, '(G)', 42)

# FC legend
label(298, 2149, 'FC (CR/CTL)', 26)
label(119, 2190, 'P < 0.05', 26, ha='left')
label(373, 2190, 'FDR < 0.10', 26, ha='left')
for x, mk in ((67, UP), (90, DOWN)):
    top.plot(x, 2187, marker=mk, ms=19, mfc='none', mec='k', mew=2, ls='none')
for x, mk in ((321, UP), (344, DOWN)):
    top.plot(x, 2187, marker=mk, ms=19, mfc='k', mec='k', mew=2, ls='none')
cax = panel(44, 2220, 556, 2246, lw=4.5)
cb = fig.colorbar(ScalarMappable(LogNorm(.71, 1.41), heat_cmap), cax=cax, orientation='horizontal')
cb.set_ticks(fc_ticks)
cb.set_ticklabels(fc_ticklabels)
cb.outline.set_linewidth(4.5)
cax.minorticks_off()
cax.tick_params(length=11, width=3, pad=8, labelsize=23)

score_norm = soft_norm(10)
col_pos = np.arange(len(strain_cols)) + .5


def gene_panel(x0, y0, x1, y1, hx0, hx1, genes, values, marks, human, human_marks, ms, letter, lx, ly):
    ax = heat_panel(x0, y0, x1, y1, values, marks, score_norm, ms)
    ax.set_yticks(np.arange(len(genes)) + .5)
    ax.set_yticklabels(genes, fontsize=26)
    ax.tick_params(axis='y', pad=10)
    ax.set_xticks(col_pos)
    ax.set_xticklabels(strain_cols, rotation=90, fontsize=26.5, ha='center', va='top')
    ax.tick_params(axis='x', pad=7)
    hax = heat_panel(hx0, y0, hx1, y1, [[v] for v in human], list(human_marks), score_norm, ms)
    hax.set_yticks([])
    hax.set_xticks([.5])
    hax.set_xticklabels(['Human'], rotation=90, fontsize=26.5, ha='center', va='top')
    hax.tick_params(axis='x', pad=7)
    label(lx, ly, letter, 42)


gene_panel(172, 2321, 520, 2684, 543, 591, H_genes, H_values, H_marks, H_human, H_human_marks, 17.5, '(H)', 67, 2773)
gene_panel(777, 2136, 1119, 2686, 1140, 1193, I_genes, I_values, I_marks, I_human, I_human_marks, 17.5, '(I)', 654, 2773)
gene_panel(1394, 2132, 1724, 2682, 1746, 1793, J_genes, J_values, J_marks, J_human, J_human_marks, 15.5, '(J)', 1261, 2771)
gene_panel(1994, 2132, 2322, 2682, 2344, 2393, K_genes, K_values, K_marks, K_human, K_human_marks, 15.5, '(K)', 1866, 2771)

fig.savefig('out.png', dpi=100)
